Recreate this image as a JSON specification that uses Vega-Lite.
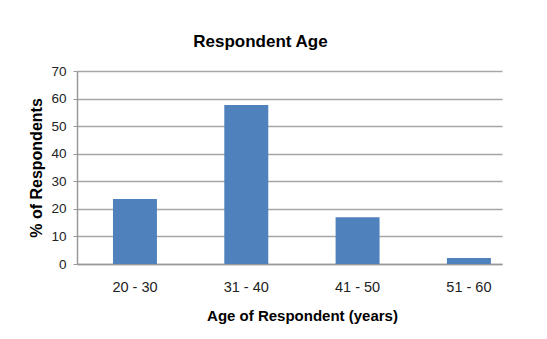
{
  "$schema": "https://vega.github.io/schema/vega-lite/v6.json",
  "autosize": "none",
  "width": 425,
  "height": 193,
  "padding": {"left": 77, "top": 71, "right": 45, "bottom": 75},
  "background": "white",
  "title": {
    "text": "Respondent Age",
    "font": "Liberation Sans",
    "fontSize": 17,
    "fontWeight": "bold",
    "color": "#000000",
    "anchor": "middle",
    "dx": -29,
    "offset": 13
  },
  "data": {
    "values": [
      {"age": "20 - 30", "pct": 23.6},
      {"age": "31 - 40", "pct": 57.7},
      {"age": "41 - 50", "pct": 17.0},
      {"age": "51 - 60", "pct": 2.2}
    ]
  },
  "mark": {"type": "bar", "color": "#4F81BD"},
  "encoding": {
    "x": {
      "field": "age",
      "type": "nominal",
      "sort": null,
      "scale": {"paddingInner": 0.605, "paddingOuter": 0.2115, "align": 0.764},
      "axis": {
        "title": "Age of Respondent (years)",
        "labelAngle": 0,
        "ticks": false,
        "labelFontSize": 14.5,
        "labelPadding": 16,
        "titlePadding": 15,
        "titleFontSize": 15,
        "titleX": 225,
        "domainColor": "#999999"
      }
    },
    "y": {
      "field": "pct",
      "type": "quantitative",
      "scale": {"domain": [0, 70]},
      "axis": {
        "title": "% of Respondents",
        "values": [0, 10, 20, 30, 40, 50, 60, 70],
        "tickSize": 4,
        "tickColor": "#999999",
        "domainColor": "#999999",
        "gridColor": "#a6a6a6",
        "labelFontSize": 13.5,
        "labelPadding": 7,
        "titleFontSize": 16,
        "titlePadding": 6
      }
    }
  },
  "config": {
    "view": {"stroke": null},
    "axis": {
      "labelFont": "Liberation Sans",
      "labelColor": "#222222",
      "titleFont": "Liberation Sans",
      "titleFontWeight": "bold",
      "titleColor": "#000000",
      "gridWidth": 1.5,
      "domainWidth": 1.5
    }
  }
}
